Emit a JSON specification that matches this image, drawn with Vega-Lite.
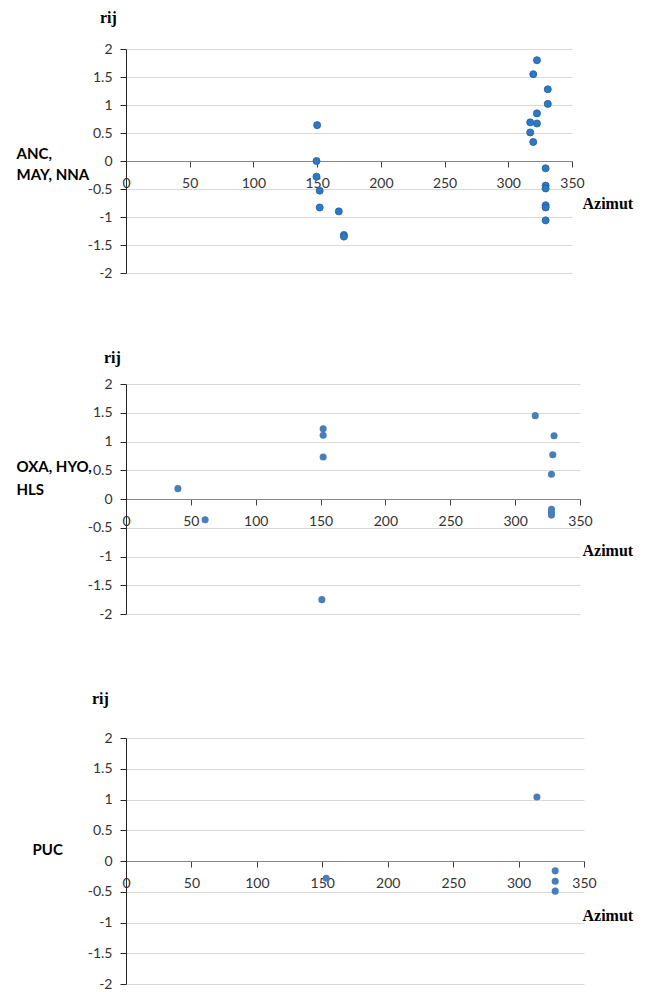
{
  "$schema": "https://vega.github.io/schema/vega-lite/v6.json",
  "padding": {"left": 16, "top": 10, "right": 5, "bottom": 0},
  "spacing": 70,
  "background": "white",
  "config": {
    "view": {"stroke": null},
    "font": "Lato",
    "axis": {
      "labelFont": "Lato",
      "labelFontSize": 14,
      "labelColor": "#333333",
      "labelFlush": false,
      "labelOverlap": false,
      "tickSize": 6,
      "labelExpr": "'' + datum.value"
    },
    "axisX": {
      "domainColor": "#868686",
      "tickColor": "#404040",
      "grid": false,
      "labelPadding": 9,
      "titleFont": "Liberation Serif",
      "titleFontSize": 16,
      "titleFontWeight": "bold",
      "titleColor": "#000000",
      "titleAlign": "left",
      "titleBaseline": "alphabetic",
      "titleAngle": 0
    },
    "axisY": {
      "domainColor": "#262626",
      "tickColor": "#262626",
      "grid": true,
      "gridColor": {"condition": {"test": "datum.value === 0", "value": "#868686"}, "value": "#d9d9d9"},
      "labelPadding": 8,
      "titleFont": "Lato",
      "titleFontSize": 15,
      "titleFontWeight": "bold",
      "titleColor": "#000000",
      "titleAlign": "left",
      "titleBaseline": "alphabetic",
      "titleAngle": 0
    },
    "title": {
      "font": "Liberation Serif",
      "fontSize": 16,
      "fontWeight": "bold",
      "color": "#000000",
      "anchor": "start",
      "frame": "group",
      "baseline": "alphabetic"
    }
  },
  "datasets": {
    "p1": [
      {"azimut": 150, "rij": 0.64},
      {"azimut": 149.5, "rij": 0.0},
      {"azimut": 149.5, "rij": -0.28},
      {"azimut": 152, "rij": -0.53},
      {"azimut": 152, "rij": -0.83},
      {"azimut": 167, "rij": -0.9},
      {"azimut": 171, "rij": -1.32},
      {"azimut": 171, "rij": -1.35},
      {"azimut": 322.5, "rij": 1.8},
      {"azimut": 319.6, "rij": 1.55},
      {"azimut": 331, "rij": 1.28},
      {"azimut": 331, "rij": 1.02},
      {"azimut": 322.5, "rij": 0.85},
      {"azimut": 317.2, "rij": 0.69},
      {"azimut": 322.5, "rij": 0.67},
      {"azimut": 317.2, "rij": 0.51},
      {"azimut": 319.6, "rij": 0.34},
      {"azimut": 329.3, "rij": -0.13},
      {"azimut": 329.3, "rij": -0.44},
      {"azimut": 329.3, "rij": -0.49},
      {"azimut": 329.3, "rij": -0.79},
      {"azimut": 329.3, "rij": -0.83},
      {"azimut": 329.3, "rij": -1.06}
    ],
    "p2": [
      {"azimut": 40, "rij": 0.18},
      {"azimut": 61, "rij": -0.36},
      {"azimut": 152, "rij": 1.22},
      {"azimut": 152, "rij": 1.11},
      {"azimut": 152, "rij": 0.73},
      {"azimut": 151, "rij": -1.75},
      {"azimut": 315.5, "rij": 1.45},
      {"azimut": 330, "rij": 1.1},
      {"azimut": 329, "rij": 0.77},
      {"azimut": 328, "rij": 0.43},
      {"azimut": 328, "rij": -0.18},
      {"azimut": 328, "rij": -0.23},
      {"azimut": 328, "rij": -0.28}
    ],
    "p3": [
      {"azimut": 153, "rij": -0.28},
      {"azimut": 314, "rij": 1.04},
      {"azimut": 328, "rij": -0.16},
      {"azimut": 328, "rij": -0.33},
      {"azimut": 328, "rij": -0.49}
    ]
  },
  "vconcat": [
    {
      "width": 446,
      "height": 224,
      "title": {"text": "rij", "dx": -26, "offset": 16},
      "data": {"name": "p1"},
      "mark": {"type": "circle", "size": 50, "fill": "#2e78c6", "stroke": "#1f5f9f", "strokeWidth": 0.8, "opacity": 1},
      "encoding": {
        "x": {
          "field": "azimut", "type": "quantitative",
          "scale": {"domain": [0, 350], "nice": false, "zero": false},
          "axis": {"offset": -112, "title": "Azimut", "titleX": 456, "titleY": 47, "values": [0, 50, 100, 150, 200, 250, 300, 350]}
        },
        "y": {
          "field": "rij", "type": "quantitative",
          "scale": {"domain": [-2, 2], "nice": false, "zero": false},
          "axis": {"title": ["ANC,", "MAY, NNA"], "titleX": -110, "titleY": 109, "titleLineHeight": 21, "values": [-2, -1.5, -1, -0.5, 0, 0.5, 1, 1.5, 2]}
        }
      }
    },
    {
      "width": 454,
      "height": 230,
      "title": {"text": "rij", "dx": -22, "offset": 11},
      "data": {"name": "p2"},
      "mark": {"type": "circle", "size": 50, "fill": "#4a7ebb", "opacity": 1},
      "encoding": {
        "x": {
          "field": "azimut", "type": "quantitative",
          "scale": {"domain": [0, 350], "nice": false, "zero": false},
          "axis": {"offset": -115, "title": "Azimut", "titleX": 456, "titleY": 56, "values": [0, 50, 100, 150, 200, 250, 300, 350]}
        },
        "y": {
          "field": "rij", "type": "quantitative",
          "scale": {"domain": [-2, 2], "nice": false, "zero": false},
          "axis": {"title": ["OXA, HYO,", "HLS"], "titleX": -110, "titleY": 87, "titleLineHeight": 23, "values": [-2, -1.5, -1, -0.5, 0, 0.5, 1, 1.5, 2]}
        }
      }
    },
    {
      "width": 458,
      "height": 246,
      "title": {"text": "rij", "dx": -34, "offset": 24},
      "data": {"name": "p3"},
      "mark": {"type": "circle", "size": 50, "fill": "#4a7ebb", "opacity": 1},
      "encoding": {
        "x": {
          "field": "azimut", "type": "quantitative",
          "scale": {"domain": [0, 350], "nice": false, "zero": false},
          "axis": {"offset": -123, "title": "Azimut", "titleX": 456, "titleY": 59, "values": [0, 50, 100, 150, 200, 250, 300, 350]}
        },
        "y": {
          "field": "rij", "type": "quantitative",
          "scale": {"domain": [-2, 2], "nice": false, "zero": false},
          "axis": {"title": "PUC", "titleX": -94, "titleY": 116, "values": [-2, -1.5, -1, -0.5, 0, 0.5, 1, 1.5, 2]}
        }
      }
    }
  ]
}
